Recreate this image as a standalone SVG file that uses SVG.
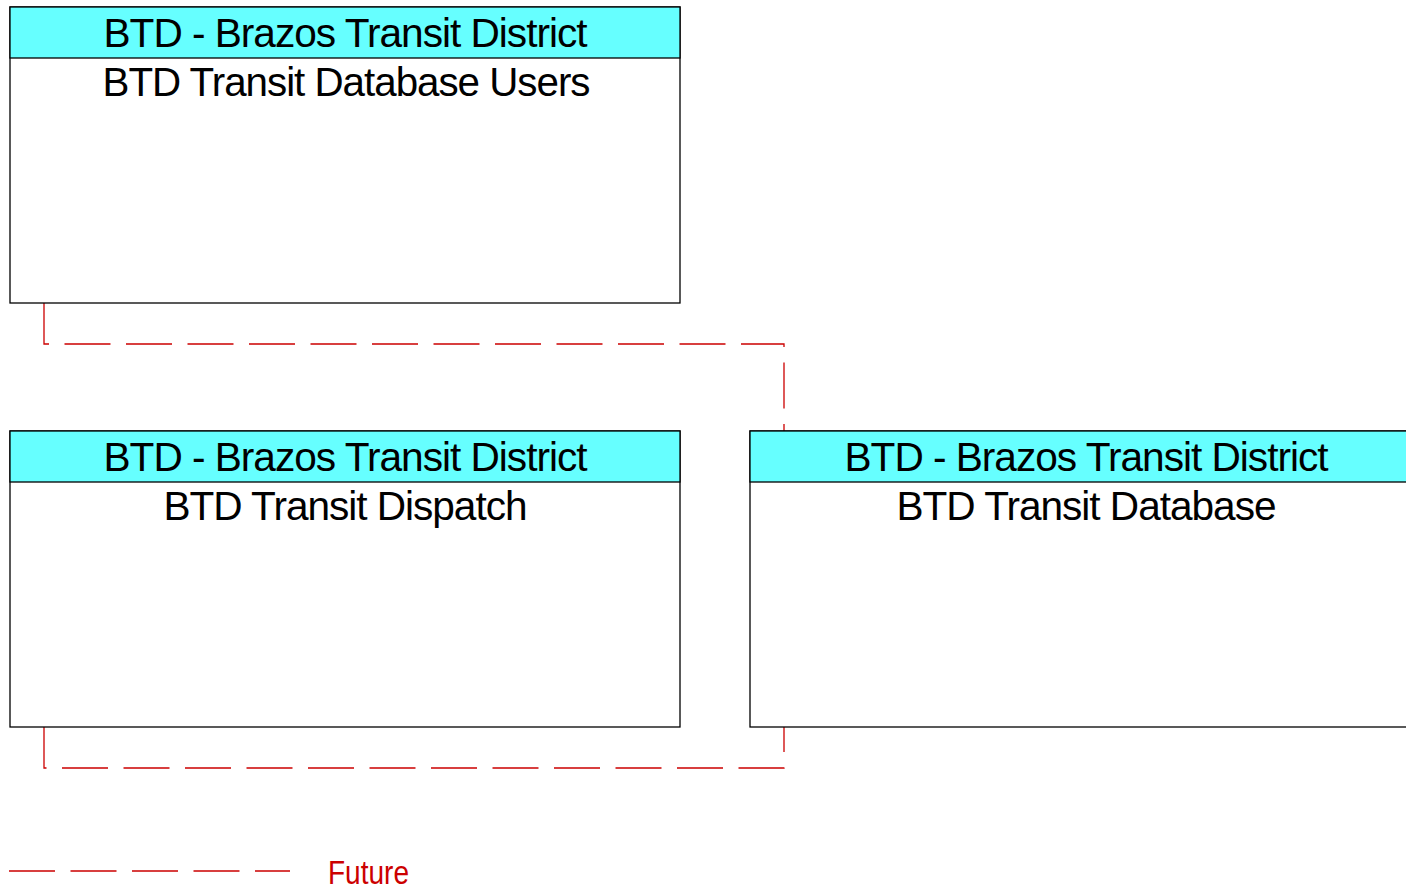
<svg xmlns="http://www.w3.org/2000/svg" width="1406" height="887" viewBox="0 0 1406 887">
<style>
.box{fill:#ffffff;stroke:#000000;stroke-width:1.3}
.hdr{fill:#66ffff;stroke:#000000;stroke-width:1.3}
.t{font-family:"Liberation Sans",Arial,sans-serif;font-size:40px;fill:#000000;text-anchor:middle;letter-spacing:-1px}
.conn{fill:none;stroke:#cc0000;stroke-width:1.3;stroke-dasharray:46 15.5}
.leg{font-family:"Liberation Sans",Arial,sans-serif;font-size:33px;fill:#cc0000}
</style>
<rect x="0" y="0" width="1406" height="887" fill="#ffffff"/>
<g id="connectors">
<path class="conn" d="M44,303 V344 H784 V431"/>
<path class="conn" style="stroke-dashoffset:21" d="M784,727 V768 H44 V727"/>
</g>
<g id="node-users">
<rect class="box" x="10" y="7" width="670" height="296"/>
<rect class="hdr" x="10" y="7" width="670" height="51"/>
<text class="t" x="345" y="47" textLength="483" lengthAdjust="spacingAndGlyphs">BTD - Brazos Transit District</text>
<text class="t" x="346" y="96" textLength="487" lengthAdjust="spacingAndGlyphs">BTD Transit Database Users</text>
</g>
<g id="node-dispatch">
<rect class="box" x="10" y="431" width="670" height="296"/>
<rect class="hdr" x="10" y="431" width="670" height="51"/>
<text class="t" x="345" y="471" textLength="483" lengthAdjust="spacingAndGlyphs">BTD - Brazos Transit District</text>
<text class="t" x="345" y="520" textLength="363" lengthAdjust="spacingAndGlyphs">BTD Transit Dispatch</text>
</g>
<g id="node-database">
<rect class="box" x="750" y="431" width="672" height="296"/>
<rect class="hdr" x="750" y="431" width="672" height="51"/>
<text class="t" x="1086" y="471" textLength="483" lengthAdjust="spacingAndGlyphs">BTD - Brazos Transit District</text>
<text class="t" x="1086" y="520" textLength="379" lengthAdjust="spacingAndGlyphs">BTD Transit Database</text>
</g>
<g id="legend">
<path class="conn" d="M9,871 H290"/>
<text class="leg" x="328" y="884" textLength="81" lengthAdjust="spacingAndGlyphs">Future</text>
</g>
</svg>
